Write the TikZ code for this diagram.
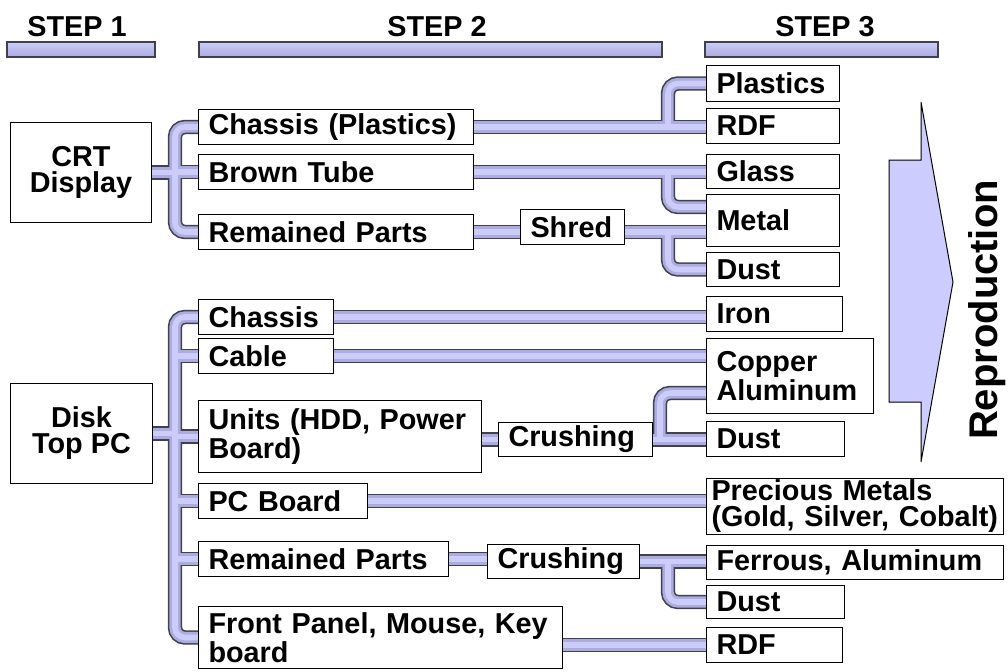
\documentclass[tikz,border=0pt]{standalone}
\usepackage{fontspec}
\setmainfont{Liberation Sans}
\usetikzlibrary{backgrounds}
\definecolor{cpipe}{RGB}{172,172,222}
\definecolor{cpipehi}{RGB}{204,204,250}
\definecolor{cedge}{RGB}{64,64,78}
\definecolor{carrow}{RGB}{204,204,255}
\tikzset{recyc/.style={x=0.5pt,y=-0.5pt,font=\fontsize{14.4}{13}\selectfont\bfseries},
  box/.style={draw,fill=white,anchor=north west,align=left,inner xsep=5pt,inner ysep=0pt,line width=0.5pt},
  pipeout/.style={line width=7.2pt,cedge,rounded corners=5pt},
  pipein/.style={line width=5.6pt,cpipe,rounded corners=5pt},
  pipehi/.style={line width=2.8pt,cpipehi,rounded corners=5pt}}
\newcommand\pipes[1]{%
  \draw[#1] (crt.east) -- (crt.east -| t1);
  \draw[#1] (chp.west) -- (chp.west -| t1) -- (rem.west -| t1) -- (rem.west);
  \draw[#1] (brt.west -| t1) -- (brt.west);
  \draw[#1] (chp.east) -- (rdf1.west |- chp.east);
  \draw[#1] (b1 |- chp.east) -- (b1 |- plast.west) -- (plast.west);
  \draw[#1] (brt.east) -- (glass.west |- brt.east);
  \draw[#1] (b1 |- brt.east) -- (b1 |- metin) -- (metin);
  \draw[#1] (rem.east) -- (shred.west |- rem.east);
  \draw[#1] (shred.east |- rem.east) -- (metal.west |- rem.east);
  \draw[#1] (b1 |- rem.east) -- (b1 |- dust1.west) -- (dust1.west);
  \draw[#1] (disk.east) -- (disk.east -| t2);
  \draw[#1] (chs.west) -- (chs.west -| t2) -- (fro.west -| t2) -- (fro.west);
  \foreach \b in {cab,uni,pcb,rem2} \draw[#1] (\b.west -| t2) -- (\b.west);
  \draw[#1] (chs.east) -- (iron.west |- chs.east);
  \draw[#1] (cab.east) -- (copper.west |- cab.east);
  \draw[#1] (uni.east |- crush1.west) -- (crush1.west);
  \draw[#1] (crush1.east) -- (dust2.west |- crush1.east);
  \draw[#1] (b2 |- crush1.east) -- (b2 |- cuin) -- (cuin);
  \draw[#1] (pcb.east) -- (prec.west |- pcb.east);
  \draw[#1] (rem2.east) -- (crush2.west |- rem2.east);
  \draw[#1] (crush2.east) -- (ferr.west |- crush2.east);
  \draw[#1] (b1 |- crush2.east) -- (b1 |- dust3.west) -- (dust3.west);
  \draw[#1] (fro.east |- rdf2.west) -- (rdf2.west);
}

\begin{document}
\begin{tikzpicture}[recyc]
    \useasboundingbox (0,0) rectangle (1008,671);
    \foreach \a/\b/\c/\n in {7/155/77/1,199/662/437/2,705/938/825/3} {
      \draw[cedge,line width=0.6pt,top color=cpipehi,bottom color=cpipe] (\a,42) rectangle (\b,57);
      \node (step\n) at (\c,27) {STEP \n};
    }
    \draw[line width=0.5pt,fill=carrow] (889,160) -- (921,160) -- (921,102) -- (953,282) -- (921,462) -- (921,402) -- (889,402) -- cycle;
    \node[rotate=90,anchor=base,font=\fontsize{20}{22}\selectfont\bfseries] (repro) at (997,310) {Reproduction};
    \coordinate (t1) at (175,172);
    \coordinate (t2) at (175,433);
    \coordinate (b1) at (668,0);
    \coordinate (b2) at (660,0);
    \coordinate (metin) at (706,207);
    \coordinate (cuin) at (706,393);
    \node[box,align=center,minimum width=70.5pt,minimum height=50pt] (crt) at (10,122) {CRT\\Display};
    \node[box,text width=127.5pt,minimum height=17.5pt] (chp) at (198,109) {Chassis (Plastics)};
    \node[box,text width=127.5pt,minimum height=17.5pt] (brt) at (198,154) {Brown Tube};
    \node[box,text width=127.5pt,minimum height=17.5pt] (rem) at (198,214) {Remained Parts};
    \node[box,text width=42pt,minimum height=17.5pt] (shred) at (520,209) {Shred};
    \node[box,text width=56.5pt,minimum height=18pt] (plast) at (706,65) {Plastics};
    \node[box,text width=56.5pt,minimum height=17.5pt] (rdf1) at (706,108) {RDF};
    \node[box,text width=56.5pt,minimum height=17pt] (glass) at (706,154) {Glass};
    \node[box,text width=56.5pt,minimum height=26pt] (metal) at (706,194) {Metal};
    \node[box,text width=56.5pt,minimum height=17pt] (dust1) at (706,252) {Dust};
    \node[box,align=center,minimum width=71pt,minimum height=50pt] (disk) at (10,383) {Disk\\Top PC};
    \node[box,text width=57.5pt,minimum height=17.5pt] (chs) at (198,299) {Chassis};
    \node[box,text width=57.5pt,minimum height=17.5pt] (cab) at (198,338) {Cable};
    \node[box,text width=131.5pt,minimum height=36pt] (uni) at (198,400) {Units (HDD, Power\\Board)};
    \node[box,text width=67pt,minimum height=17pt] (crush1) at (498,422) {Crushing};
    \node[box,text width=74.5pt,minimum height=17.5pt] (pcb) at (198,483) {PC Board};
    \node[box,text width=115pt,minimum height=17.5pt] (rem2) at (198,541) {Remained Parts};
    \node[box,text width=66pt,minimum height=17pt] (crush2) at (487,544) {Crushing};
    \node[box,text width=172pt,minimum height=31pt] (fro) at (198,606) {Front Panel, Mouse, Key\\board};
    \node[box,text width=58pt,minimum height=17.5pt] (iron) at (706,296) {Iron};
    \node[box,text width=73.5pt,minimum height=37.5pt] (copper) at (706,338) {Copper\\Aluminum};
    \node[box,text width=59pt,minimum height=17.5pt] (dust2) at (706,421) {Dust};
    \node[box,inner xsep=2.5pt,text width=143.5pt,minimum height=28pt] (prec) at (706,478) {Precious Metals\\(Gold, Silver, Cobalt)};
    \node[box,text width=138.5pt,minimum height=17pt] (ferr) at (706,545) {Ferrous, Aluminum};
    \node[box,text width=59pt,minimum height=16.5pt] (dust3) at (706,585) {Dust};
    \node[box,text width=58pt,minimum height=17.5pt] (rdf2) at (706,627) {RDF};
    \begin{scope}[on background layer]
      \pipes{pipeout}
      \pipes{pipein}
      \pipes{pipehi}
    \end{scope}
\end{tikzpicture}
\end{document}
